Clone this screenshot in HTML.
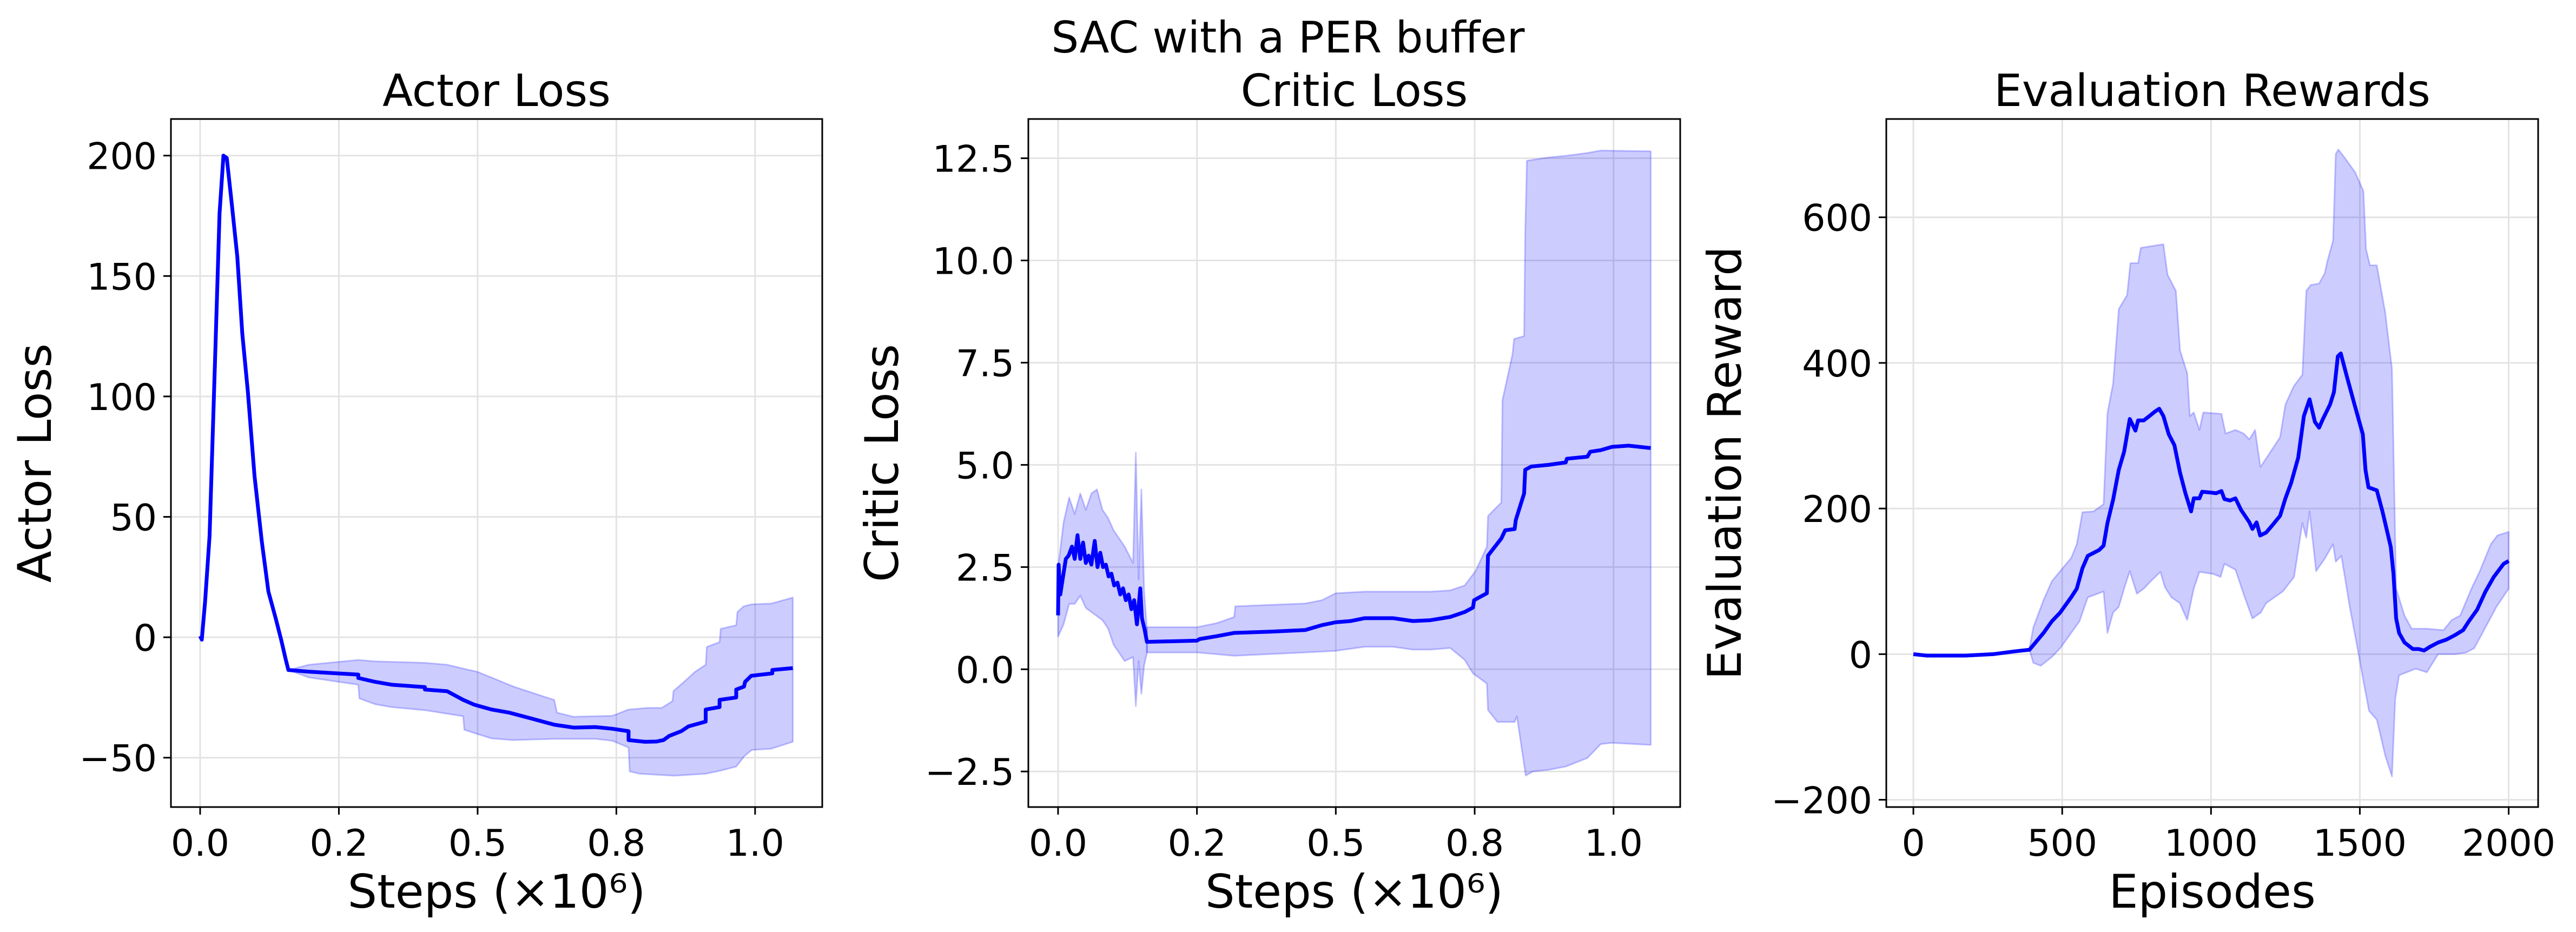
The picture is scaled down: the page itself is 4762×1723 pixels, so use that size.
<!DOCTYPE html>
<html><head><meta charset="utf-8"><style>
html,body{margin:0;padding:0;background:#fff;}
svg{display:block;font-family:"DejaVu Sans","Liberation Sans",sans-serif;}
</style></head><body>
<svg id="fig" width="4762" height="1723" viewBox="0 0 4762 1723" xmlns="http://www.w3.org/2000/svg">
<rect width="4762" height="1723" fill="#fff"/>
<text x="2381" y="97" font-size="80" text-anchor="middle">SAC with a PER buffer</text>
</svg>
<script>
// ---------- Actor Loss data ----------
const actorX=[0,0.003,0.009,0.017,0.027,0.035,0.042,0.048,0.057,0.067,0.076,0.086,0.098,0.111,0.123,0.136,0.146,0.154,0.159,0.196,0.285,0.285,0.315,0.345,0.405,0.405,0.445,0.474,0.494,0.525,0.557,0.598,0.638,0.673,0.713,0.743,0.772,0.772,0.802,0.822,0.835,0.845,0.867,0.880,0.911,0.911,0.936,0.936,0.966,0.966,0.980,0.982,0.993,1.031,1.031,1.068];
const actorMean=[0.5,-1,15,42,116,176,200,199,180,158,126,102,67,40,19,8,-1,-9,-13.6,-14.3,-15.5,-16.9,-18.5,-19.7,-20.7,-21.7,-22.4,-26,-28,-30,-31.3,-33.8,-36.3,-37.5,-37.3,-38,-39,-42.7,-43.4,-43.3,-42.7,-41,-39,-37,-35,-30,-29,-26,-25,-21.7,-20.5,-18.5,-16,-15,-13.6,-12.8];
const actorUpX=[0.159,0.196,0.285,0.315,0.405,0.445,0.474,0.499,0.525,0.565,0.598,0.638,0.643,0.673,0.743,0.772,0.807,0.832,0.851,0.853,0.871,0.892,0.911,0.913,0.936,0.938,0.966,0.968,0.979,0.994,1.029,1.068];
const actorUp=[-13.6,-11.4,-9.4,-10,-10.6,-11.4,-13,-14.3,-16.7,-20.5,-23,-26,-31.3,-33,-32.6,-30,-29.3,-29.3,-26.5,-22.3,-18.7,-14.3,-11.4,-4,-2,3.5,5,10.4,12.8,13.7,14,16.5];
const actorLoX=[0.159,0.196,0.285,0.287,0.315,0.345,0.405,0.474,0.476,0.497,0.525,0.563,0.638,0.713,0.743,0.772,0.774,0.792,0.854,0.911,0.936,0.966,0.981,0.994,1.029,1.068];
const actorLo=[-13.6,-16.7,-19.7,-25.4,-27.8,-29,-30.3,-32.8,-38.4,-40,-42,-42.7,-42.2,-42.2,-43,-45.8,-55.7,-56.7,-57.5,-56.7,-55.5,-53.7,-49.3,-46.8,-46.3,-43.4];
const actorXTicks=[0,0.25,0.5,0.75,1.0];
const actorXTickLabels=["0.0","0.2","0.5","0.8","1.0"];
const actorYTicks=[-50,0,50,100,150,200];
const actorYTickLabels=["\u221250","0","50","100","150","200"];

// ---------- Critic Loss data ----------
const criticX=[0,0.001,0.004,0.009,0.014,0.019,0.025,0.030,0.035,0.040,0.045,0.050,0.055,0.060,0.066,0.071,0.076,0.081,0.086,0.091,0.096,0.101,0.107,0.112,0.117,0.122,0.127,0.132,0.137,0.142,0.148,0.151,0.156,0.160,0.25,0.255,0.286,0.317,0.383,0.445,0.475,0.5,0.527,0.552,0.603,0.639,0.670,0.706,0.732,0.747,0.749,0.772,0.774,0.798,0.805,0.822,0.824,0.839,0.841,0.852,0.883,0.914,0.916,0.953,0.958,0.977,0.997,1.027,1.067];
const criticMean=[1.32,2.56,1.83,2.27,2.7,2.78,3.0,2.7,3.28,2.7,3.1,2.6,2.78,2.56,3.14,2.5,2.85,2.5,2.56,2.27,2.34,2.05,2.12,1.83,1.98,1.69,1.83,1.47,1.69,1.1,1.98,1.25,0.96,0.67,0.70,0.74,0.81,0.89,0.92,0.96,1.08,1.15,1.18,1.25,1.25,1.18,1.2,1.28,1.4,1.51,1.69,1.86,2.78,3.2,3.4,3.43,3.65,4.3,4.88,4.96,5.0,5.06,5.15,5.2,5.32,5.36,5.44,5.47,5.41];
const criticEarlyX=[0,0.01,0.02,0.03,0.04,0.05,0.06,0.07,0.08,0.09,0.10,0.11,0.12,0.135,0.14,0.145,0.15,0.155,0.16];
const criticEarlyUp=[2.5,3.6,4.2,3.8,4.3,3.9,4.3,4.4,3.9,3.7,3.4,3.2,3.0,2.6,5.3,2.2,4.4,1.9,1.0];
const criticEarlyLo=[0.8,1.1,1.6,1.6,1.8,1.5,1.4,1.3,1.2,1.0,0.6,0.4,0.2,0.3,-0.9,0.2,-0.6,0.1,0.4];
const criticUpX=[0.16,0.25,0.286,0.317,0.319,0.445,0.475,0.5,0.552,0.670,0.706,0.732,0.752,0.772,0.774,0.798,0.800,0.818,0.821,0.839,0.841,0.844,0.883,0.914,0.953,0.977,1.067];
const criticUp=[1.03,1.03,1.13,1.28,1.54,1.61,1.69,1.86,1.9,1.9,1.93,2.05,2.41,3.0,3.75,4.08,6.58,7.7,8.08,8.15,10.67,12.44,12.52,12.56,12.63,12.69,12.67];
const criticLoX=[0.16,0.25,0.317,0.445,0.5,0.552,0.603,0.639,0.670,0.706,0.732,0.747,0.772,0.774,0.791,0.822,0.826,0.842,0.855,0.883,0.914,0.953,0.977,0.997,1.067];
const criticLo=[0.41,0.41,0.33,0.41,0.45,0.55,0.55,0.48,0.48,0.52,0.23,-0.1,-0.35,-1.0,-1.29,-1.29,-1.15,-2.6,-2.5,-2.46,-2.38,-2.17,-1.83,-1.8,-1.85];
const criticXTicks=[0,0.25,0.5,0.75,1.0];
const criticXTickLabels=["0.0","0.2","0.5","0.8","1.0"];
const criticYTicks=[-2.5,0,2.5,5,7.5,10,12.5];
const criticYTickLabels=["\u22122.5","0.0","2.5","5.0","7.5","10.0","12.5"];

// ---------- Evaluation Rewards data ----------
const evalX=[0,45,175,269,344,390,437,465,493,530,549,568,586,605,624,639,652,671,690,708,727,746,755,774,793,811,826,840,858,877,896,914,933,942,961,970,998,1017,1035,1045,1064,1082,1101,1129,1139,1153,1165,1185,1204,1232,1250,1269,1293,1312,1331,1349,1363,1376,1400,1413,1426,1436,1454,1482,1510,1519,1529,1557,1576,1604,1613,1622,1632,1650,1678,1697,1716,1735,1763,1791,1819,1847,1866,1894,1922,1950,1983,2000];
const evalMean=[0,-2,-2,0,4,6,29,45,57,78,90,118,135,139,143,149,180,212,253,278,323,307,321,321,327,333,337,327,302,287,249,221,196,214,214,223,222,221,224,213,211,214,198,181,172,181,163,167,176,190,214,235,270,327,350,319,311,323,343,360,409,413,385,343,302,253,229,225,196,147,110,49,29,16,7,7,5,10,16,20,26,33,45,61,86,106,124,128];
const evalUpX=[390,403,437,465,493,530,549,568,605,639,652,671,690,718,729,755,764,793,840,854,882,896,920,929,942,961,974,1035,1049,1082,1110,1129,1148,1166,1200,1232,1250,1278,1307,1320,1335,1363,1382,1391,1410,1419,1428,1447,1484,1512,1521,1534,1557,1585,1608,1622,1650,1674,1725,1781,1809,1837,1875,1903,1940,1962,2000];
const evalUp=[8,37,74,100,114,132,151,195,196,206,331,372,474,493,537,537,558,560,563,521,499,417,386,327,332,308,332,330,303,308,303,295,308,257,278,298,343,368,384,499,507,509,523,540,568,687,693,683,662,636,556,534,534,470,392,90,53,35,35,33,47,53,90,114,151,163,168];
const evalLoX=[390,403,428,465,493,530,558,586,639,652,671,690,708,727,751,774,802,830,845,867,895,920,942,961,1008,1032,1045,1082,1110,1139,1167,1185,1241,1279,1307,1320,1331,1353,1382,1410,1419,1438,1466,1494,1512,1531,1557,1585,1608,1619,1632,1688,1725,1763,1819,1856,1884,1912,1959,2000];
const evalLo=[6,-12,-16,-4,8,29,45,78,86,29,57,65,90,114,83,90,102,113,92,78,70,47,90,113,110,106,124,116,82,49,57,70,86,106,180,160,196,114,131,151,127,135,65,4,-37,-78,-90,-139,-168,-61,-29,-20,-25,0,0,2,8,29,65,90];
const evalXTicks=[0,500,1000,1500,2000];
const evalXTickLabels=["0","500","1000","1500","2000"];
const evalYTicks=[-200,0,200,400,600];
const evalYTickLabels=["\u2212200","0","200","400","600"];

const NS="http://www.w3.org/2000/svg";
const fig=document.getElementById('fig');
function mk(tag,attrs,parent){const e=document.createElementNS(NS,tag);for(const k in attrs)e.setAttribute(k,attrs[k]);(parent||fig).appendChild(e);return e;}

function panel(cfg){
  const g=mk('g',{});
  
  
  const L=cfg.L,R=cfg.R,T=220,B=1492;
  const sx=v=>L+(v-cfg.xmin)/(cfg.xmax-cfg.xmin)*(R-L);
  const sy=v=>B-(v-cfg.ymin)/(cfg.ymax-cfg.ymin)*(B-T);
  cfg.xt.forEach(v=>{const l=mk('line',{x1:sx(v),x2:sx(v),y1:T,y2:B,stroke:'#e3e3e3','stroke-width':3},g);
    });
  cfg.yt.forEach(v=>{const l=mk('line',{x1:L,x2:R,y1:sy(v),y2:sy(v),stroke:'#e3e3e3','stroke-width':3},g);
    });
  cfg.bands.forEach(b=>{
    let pts=[];
    b.ux.forEach((x,i)=>pts.push(sx(x)+','+sy(b.u[i])));
    for(let i=b.lx.length-1;i>=0;i--)pts.push(sx(b.lx[i])+','+sy(b.l[i]));
    const p=mk('polygon',{points:pts.join(' '),fill:'rgba(0,0,255,0.2)',stroke:'rgba(0,0,255,0.22)','stroke-width':3,'stroke-linejoin':'round'},g);
    
  });
  const d=cfg.mx.map((x,i)=>(i?'L':'M')+sx(x)+','+sy(cfg.my[i])).join(' ');
  const ln=mk('path',{d:d,fill:'none',stroke:'#0000ff','stroke-width':7,'stroke-linejoin':'round'},g);
  
  const fr=mk('rect',{x:L,y:T,width:R-L,height:B-T,fill:'none',stroke:'#000','stroke-width':3},g);
  
  cfg.xt.forEach((v,i)=>{mk('line',{x1:sx(v),x2:sx(v),y1:B,y2:B+14,stroke:'#000','stroke-width':3},g);
    const t=mk('text',{x:sx(v),y:1582,'font-size':68,'text-anchor':'middle'},g);t.textContent=cfg.xl[i];
    });
  cfg.yt.forEach((v,i)=>{mk('line',{x1:L-14,x2:L,y1:sy(v),y2:sy(v),stroke:'#000','stroke-width':3},g);
    const t=mk('text',{x:L-26,y:sy(v)+25,'font-size':68,'text-anchor':'end'},g);t.textContent=cfg.yl[i];
    });
  const ti=mk('text',{x:(L+R)/2,y:196,'font-size':82,'text-anchor':'middle'},g);ti.textContent=cfg.title;
  
  const xa=mk('text',{x:(L+R)/2,y:1678,'font-size':86,'text-anchor':'middle'},g);xa.textContent=cfg.xlabel;
  
  const ya=mk('text',{x:0,y:0,'font-size':86,'text-anchor':'middle',transform:`translate(${cfg.ylx},${(T+B)/2}) rotate(-90)`},g);ya.textContent=cfg.ylabel;
  
}
const stepsLabel='Steps (\u00d710\u2076)';
panel({key:'actor-loss',L:316,R:1520,xmin:-0.0526,xmax:1.121,ymin:-70.5,ymax:215.2,
  xt:actorXTicks,xl:actorXTickLabels,yt:actorYTicks,yl:actorYTickLabels,
  mx:actorX,my:actorMean,bands:[{ux:actorUpX,u:actorUp,lx:actorLoX,l:actorLo}],
  title:'Actor Loss',xlabel:stepsLabel,ylabel:'Actor Loss',ylx:94});
panel({key:'critic-loss',L:1901,R:3106,xmin:-0.0535,xmax:1.12,ymin:-3.37,ymax:13.46,
  xt:criticXTicks,xl:criticXTickLabels,yt:criticYTicks,yl:criticYTickLabels,
  mx:criticX,my:criticMean,bands:[{ux:criticEarlyX,u:criticEarlyUp,lx:criticEarlyX,l:criticEarlyLo},{ux:criticUpX,u:criticUp,lx:criticLoX,l:criticLo}],
  title:'Critic Loss',xlabel:stepsLabel,ylabel:'Critic Loss',ylx:1660});
panel({key:'evaluation-rewards',L:3487,R:4692,xmin:-91,xmax:2099,ymin:-210,ymax:735,
  xt:evalXTicks,xl:evalXTickLabels,yt:evalYTicks,yl:evalYTickLabels,
  mx:evalX,my:evalMean,bands:[{ux:evalUpX,u:evalUp,lx:evalLoX,l:evalLo}],
  title:'Evaluation Rewards',xlabel:'Episodes',ylabel:'Evaluation Reward',ylx:3218});
</script>
</body></html>
